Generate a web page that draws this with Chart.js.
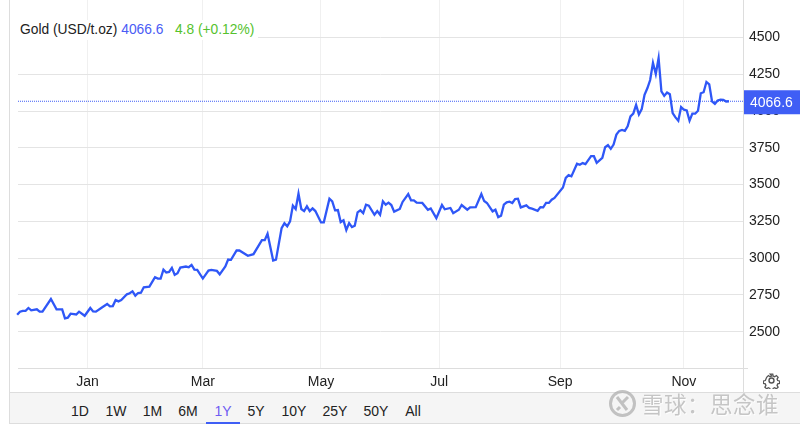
<!DOCTYPE html>
<html>
<head>
<meta charset="utf-8">
<script src="https://cdn.jsdelivr.net/npm/chart.js@4"></script>
<style>
html, body { margin: 0; padding: 0; background: #fff; width: 800px; height: 429px; overflow: hidden; }
body { font-family: "Liberation Sans", Arial, sans-serif; position: relative; }
canvas { position: absolute; left: 0; top: 0; }
#header { position: absolute; left: 18px; top: 20px; width: 240px; height: 20px; background: #fff; font-size: 13.8px; line-height: 19px; color: #222; padding-left: 2px; box-sizing: border-box; white-space: pre; }
#header .last { color: #4a5cf5; }
#header .change { color: #55c22e; }
#frame { position: absolute; left: 9px; top: 0; width: 1px; height: 424px; background: #ddd; }
#bar { position: absolute; left: 10px; top: 392px; width: 790px; height: 32px; background: #f5f5f5; border-top: 1px solid #ddd; border-bottom: 1px solid #ddd; box-sizing: border-box; }
.range { position: absolute; top: 403px; transform: translateX(-50%); font-size: 14px; line-height: 16px; color: #222; }
.range.on { color: #6f5cf2; }
#under { position: absolute; left: 206px; top: 422px; width: 34px; height: 2px; background: #3f5ef5; }
#gear { position: absolute; left: 763px; top: 372px; }
#mark { position: absolute; left: 641px; top: 388px; font-family: "Noto Sans CJK SC", sans-serif; font-size: 22.5px; line-height: 30px; letter-spacing: 0.5px; color: rgba(175,175,175,.7); text-shadow: 1px 1px 1px #fff; white-space: pre; }
#logo { position: absolute; left: 608px; top: 389px; }
</style>
</head>
<body>
<canvas id="goldChart" width="800" height="429"></canvas>
<div id="frame"></div>
<div id="bar"></div>
<div id="under"></div>
<div id="header">Gold (USD/t.oz) <span class="last">4066.6</span>   <span class="change">4.8 (+0.12%)</span></div>
<span class="range" style="left:80px">1D</span>
<span class="range" style="left:116px">1W</span>
<span class="range" style="left:152.5px">1M</span>
<span class="range" style="left:188px">6M</span>
<span class="range on" style="left:223px">1Y</span>
<span class="range" style="left:256px">5Y</span>
<span class="range" style="left:294px">10Y</span>
<span class="range" style="left:335px">25Y</span>
<span class="range" style="left:376px">50Y</span>
<span class="range" style="left:413px">All</span>
<svg id="gear" width="17" height="17" viewBox="0 0 24 24" fill="none" stroke="#555" stroke-width="2"><circle cx="12" cy="12" r="3.5"/><path d="M10 2h4l.6 3 2.4 1 2.6-1.7 2.8 2.8-1.7 2.6 1 2.4 3 .6v4l-3 .6-1 2.4 1.7 2.6-2.8 2.8-2.6-1.7-2.4 1-.6 3h-4l-.6-3-2.4-1-2.6 1.7-2.8-2.8 1.7-2.6-1-2.4-3-.6v-4l3-.6 1-2.4L4.4 7.1l2.8-2.8L9.8 6l2.4-1z" transform="translate(1.2 1.2) scale(.9)"/></svg>
<svg id="logo" width="29" height="29" viewBox="0 0 29 29" fill="none" stroke="rgba(175,175,175,.75)" stroke-width="3"><circle cx="14.5" cy="14.5" r="12"/><path d="M9 8l10 13M20 8l-6 6M9 21l3-3"/></svg>
<div id="mark">雪球：思念谁</div>
<script>
// Month ticks, counted in trading sessions from the start of January
const monthLabels = ["Jan", "Mar", "May", "Jul", "Sep", "Nov"];
const monthSessions = [0, 41, 83, 125, 168, 212];
const priceTicks = [2500, 2750, 3000, 3250, 3500, 3750, 4000, 4250, 4500];
const lastPrice = 4066.6;

const sessions = [
  -25, -24, -23, -22, -21, -20, -18, -17, -16, -13, -11, -9, -8, -7, -6, -4, -3, -1, 1, 2, 3, 5, 7, 8, 9, 10, 11, 12, 14, 15, 16,
  17, 18, 19, 20, 22, 24, 25, 26, 27, 28, 29, 30, 31, 32, 33, 35, 36, 37, 38, 39, 41, 43, 44, 46, 47, 49, 50, 51, 53, 54, 57, 59, 62, 63, 64, 66, 67,
  69, 70, 71, 72, 73, 74, 75, 76, 77, 78, 79, 80, 81, 83, 84, 86, 87, 88, 89, 90, 91, 92, 93, 94, 95, 96, 97, 98, 99, 100,
  102, 103, 104, 105, 106, 107, 108, 109, 111, 112, 114, 115, 116, 117, 119, 121, 122, 124, 126, 127, 129, 130, 132, 133, 135, 136, 138,
  140, 141, 142, 144, 145, 146, 147, 148, 149, 150, 151, 152, 153, 154, 156, 157, 158, 160, 161, 162, 163, 164, 165, 166, 169, 170, 171,
  172, 174, 175, 176, 177, 179, 180, 181, 183, 184, 185, 186, 187, 188, 189, 190, 191, 192, 193, 194, 195, 196, 197, 198, 199, 200,
  201, 202, 203, 204, 205, 206, 207, 208, 209, 210, 211, 212, 213, 214, 215, 216, 217, 218, 219, 220, 221, 222, 223, 224, 225, 226, 227, 228
];
const prices = [
  2615, 2636, 2642, 2642, 2661, 2645, 2652, 2636, 2636, 2722, 2652, 2652, 2590, 2595, 2622, 2617, 2636, 2608, 2661, 2638, 2636, 2663, 2688, 2672, 2674, 2715, 2706, 2715, 2754, 2761, 2774,
  2745, 2763, 2765, 2802, 2806, 2870, 2861, 2861, 2922, 2902, 2906, 2934, 2886, 2897, 2936, 2943, 2938, 2954, 2922, 2920, 2861, 2915, 2920, 2913, 2890, 2943, 2990, 2988, 3052, 3052, 3016, 3027, 3122, 3122, 3166, 2984, 2990,
  3204, 3238, 3216, 3250, 3357, 3334, 3438, 3334, 3320, 3352, 3320, 3338, 3320, 3243, 3243, 3404, 3386, 3325, 3327, 3245, 3257, 3191, 3238, 3211, 3220, 3311, 3325, 3306, 3363, 3357,
  3295, 3320, 3295, 3386, 3363, 3377, 3361, 3316, 3334, 3382, 3436, 3393, 3393, 3377, 3375, 3329, 3338, 3272, 3361, 3332, 3341, 3306, 3329, 3361, 3329, 3345, 3347,
  3436, 3388, 3375, 3318, 3329, 3279, 3288, 3363, 3379, 3384, 3375, 3402, 3404, 3345, 3359, 3341, 3336, 3322, 3347, 3345, 3375, 3375, 3397, 3409, 3480, 3546, 3564,
  3556, 3642, 3635, 3646, 3639, 3693, 3693, 3648, 3682, 3754, 3768, 3743, 3772, 3840, 3865, 3871, 3865, 3896, 3964, 3982, 4042, 3977, 4013, 4110, 4155, 4211,
  4328, 4252, 4360, 4133, 4103, 4126, 4114, 3986, 3957, 3934, 4027, 4009, 4004, 3934, 3982, 3982, 4002, 4121, 4128, 4198, 4182, 4065, 4049, 4072, 4078, 4076, 4065, 4066.6
];

const font = { family: "'Liberation Sans', Arial, sans-serif", size: 14 };

// Axis lines that run past the plot, and the last price tag over the right axis
const overlay = {
  id: "overlay",
  afterDraw(chart) {
    const { ctx, chartArea, scales } = chart;
    ctx.save();
    ctx.strokeStyle = "#ddd";
    ctx.lineWidth = 1;
    ctx.beginPath();
    ctx.moveTo(chartArea.right + 0.5, 0);
    ctx.lineTo(chartArea.right + 0.5, 392);
    ctx.moveTo(chartArea.left, chartArea.bottom + 0.5);
    ctx.lineTo(chartArea.right + 5, chartArea.bottom + 0.5);
    ctx.stroke();
    const y = scales.y.getPixelForValue(lastPrice);
    ctx.fillStyle = "#3f5ef5";
    ctx.fillRect(744, y - 11, 56, 24);
    ctx.fillStyle = "#fff";
    ctx.font = "14px 'Liberation Sans', Arial, sans-serif";
    ctx.textAlign = "left";
    ctx.textBaseline = "middle";
    ctx.fillText(lastPrice.toFixed(1), 750, y + 1.5);
    ctx.restore();
  }
};

new Chart(document.getElementById("goldChart"), {
  type: "line",
  data: {
    datasets: [
      {
        label: "Gold",
        data: sessions.map((s, i) => ({ x: s, y: prices[i] })),
        borderColor: "#2f57f7",
        borderWidth: 2.3,
        pointRadius: 0,
        tension: 0,
        clip: false
      },
      {
        label: "Last",
        data: [{ x: -24.7, y: lastPrice }, { x: 233, y: lastPrice }],
        borderColor: "#3f5ef5",
        borderWidth: 1,
        borderDash: [1, 1],
        pointRadius: 0
      }
    ]
  },
  options: {
    responsive: false,
    animation: false,
    layout: { padding: { left: 18, top: 0, right: 0, bottom: 0 } },
    plugins: { legend: { display: false }, tooltip: { enabled: false } },
    scales: {
      x: {
        type: "linear",
        min: -24.7,
        max: 233,
        afterFit(scale) { scale.height = 61; scale.paddingLeft = 0; scale.paddingRight = 0; },
        afterBuildTicks(scale) { scale.ticks = monthSessions.map(v => ({ value: v })); },
        grid: { color: "#f0f0f0", drawTicks: false },
        border: { display: false },
        ticks: {
          autoSkip: false,
          maxRotation: 0,
          padding: 6,
          color: "#222",
          font,
          callback: v => monthLabels[monthSessions.indexOf(v)]
        }
      },
      y: {
        position: "right",
        min: 2253,
        max: 4755,
        afterFit(scale) { scale.width = 57; scale.paddingTop = 0; scale.paddingBottom = 0; },
        afterBuildTicks(scale) { scale.ticks = priceTicks.map(v => ({ value: v })); },
        grid: { color: "#e4e4e4", drawTicks: false },
        border: { display: false },
        ticks: { padding: 6, color: "#222", font, callback: v => String(v) }
      }
    }
  },
  plugins: [overlay]
});
</script>
</body>
</html>
